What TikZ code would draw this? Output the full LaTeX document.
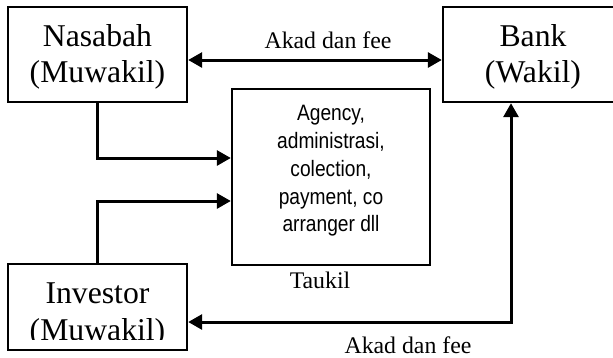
\documentclass[tikz,border=0pt]{standalone}
\usepackage{fontspec}
\setmainfont{Liberation Serif}
\newfontfamily\narrowsans[FakeStretch=0.86]{Liberation Sans}
\usetikzlibrary{arrows.meta}
\begin{document}
\begin{tikzpicture}[x=1pt,y=-1pt,
  box/.style={draw, line width=2.4pt, inner sep=0pt},
  party/.style={inner sep=0pt, align=center,
    font={\fontsize{31.7}{36.5}\selectfont}},
  tasks/.style={inner sep=0pt, align=center,
    font={\narrowsans\fontsize{22.3}{27.8}\selectfont}},
  tag/.style={inner sep=0pt, anchor=base,
    font={\fontsize{23.8}{28}\selectfont}},
  link/.style={line width=3pt, -{Triangle[length=14pt,width=15pt]}},
  duplex/.style={line width=3pt,
    {Triangle[length=14pt,width=15pt]}-{Triangle[length=14pt,width=15pt]}}]
\useasboundingbox (0,0) rectangle (613,357);

% the four boxes
\node[box, minimum width=179pt, minimum height=95pt] (nas) at (97.5,54.5) {};
\node[box, minimum width=180pt, minimum height=95pt] (bank) at (533,54.5) {};
\node[box, minimum width=198pt, minimum height=176pt] (ag) at (331,177) {};
\node[box, minimum width=179pt, minimum height=86pt] (inv) at (97.5,307) {};

% box texts
\node[party] (nastext) at (97.5,57) {Nasabah\\(Muwakil)};
\node[party] (banktext) at (533,57) {Bank\\(Wakil)};
\node[tasks] (agtext) at (331,171) {Agency,\\administrasi,\\colection,\\payment, co\\arranger dll};
\begin{scope}
  \clip (inv.north west) rectangle ([yshift=12pt]inv.south east);
  \node[party] (invtext) at (97.5,315) {Investor\\(Muwakil)};
\end{scope}

% connectors
\draw[duplex] ([yshift=-5.5pt]nas.east) -- ([yshift=-5.5pt]bank.west);
\draw[link] (nas.south) |- ([yshift=19pt]ag.west);
\draw[link] (inv.north) |- ([yshift=-24pt]ag.west);
\draw[duplex] ([yshift=-15pt]inv.east) -| ([xshift=-22pt]bank.south);

% labels
\node[tag] (akadtop) at (328,48) {Akad dan fee};
\node[tag] (taukil) at (320,288) {Taukil};
\node[tag] (akadbot) at (408,353) {Akad dan fee};
\end{tikzpicture}
\end{document}
